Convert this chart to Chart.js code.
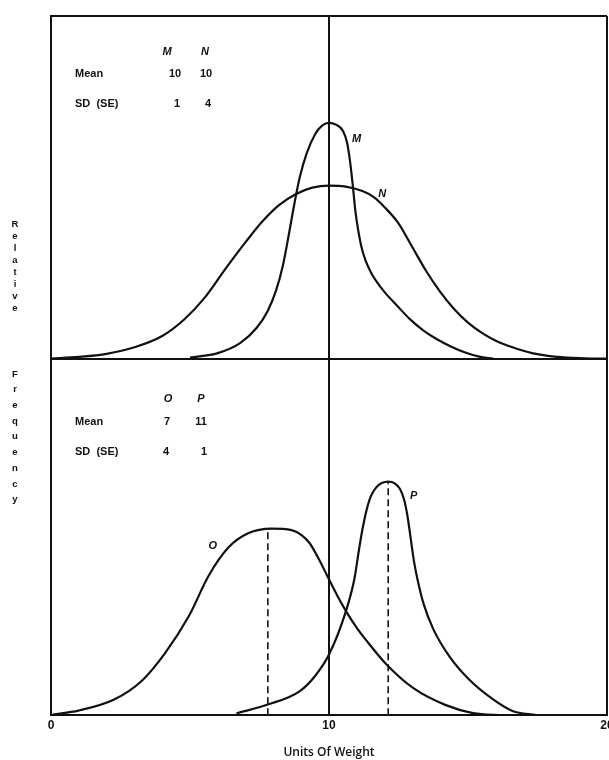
<!DOCTYPE html>
<html>
<head>
<meta charset="utf-8">
<script src="https://cdn.jsdelivr.net/npm/chart.js@4/dist/chart.umd.min.js"></script>
<style>
html,body{margin:0;padding:0;background:#fff;}
#wrap{width:609px;height:760px;position:relative;}
</style>
</head>
<body>
<div id="wrap"><canvas id="c" width="609" height="760"></canvas></div>
<script>
// ---------- data ----------
const xTicks = [0, 10, 20];
const xTitle = 'Units Of Weight';
const yTitleWords = ['Relative', 'Frequency'];

// upper panel curves (x = units of weight, y = relative frequency)
const mX = [5.0, 6.0, 6.8, 7.4, 7.8, 8.1, 8.35, 8.55, 8.75, 8.95, 9.2, 9.5, 9.75, 10.0, 10.25, 10.5, 10.65, 10.75, 10.85, 10.95, 11.05, 11.17, 11.32, 11.5, 11.7, 12.0, 12.5, 12.9, 13.4, 13.9, 14.4, 14.9, 15.4, 15.9];
const mY = [0.3, 1.6, 4.5, 9.0, 14.0, 20.0, 27.5, 36.0, 45.0, 53.0, 60.0, 65.5, 68.0, 68.8, 68.3, 66.5, 63.0, 58.0, 51.0, 43.0, 37.5, 32.5, 28.5, 25.3, 22.6, 19.4, 15.0, 11.6, 8.2, 5.6, 3.5, 1.8, 0.6, 0];
const nX = [0.0, 1.0, 2.0, 3.0, 4.0, 4.8, 5.5, 6.3, 7.0, 7.6, 8.2, 8.8, 9.4, 10.0, 10.6, 11.2, 11.6, 12.0, 12.5, 13.0, 13.5, 14.0, 14.5, 15.0, 15.5, 16.0, 16.6, 17.3, 18.2, 19.2, 20.0];
const nY = [0, 0.5, 1.4, 3.3, 6.6, 11.5, 17.5, 26.5, 34.0, 40.0, 44.8, 48.0, 49.9, 50.5, 50.2, 48.9, 47.2, 44.2, 39.5, 32.5, 25.5, 19.5, 14.5, 10.5, 7.5, 5.2, 3.3, 1.6, 0.5, 0.1, 0];

// lower panel curves
const oX = [0.07, 0.99, 2.27, 3.26, 4.11, 4.96, 5.67, 6.38, 7.09, 7.94, 8.65, 9.0, 9.3, 9.6, 9.93, 10.3, 10.61, 11.0, 11.35, 12.06, 13.05, 14.18, 15.18, 16.31];
const oY = [0.2, 1.3, 4.4, 9.6, 17.5, 27.8, 39.1, 47.0, 51.0, 52.3, 51.9, 50.6, 48.3, 44.3, 39.2, 33.5, 29.2, 24.5, 20.9, 14.3, 7.5, 2.9, 0.6, 0];
const pX = [6.67, 7.80, 8.94, 9.5, 10.0, 10.61, 10.92, 11.06, 11.2, 11.35, 11.5, 11.7, 11.9, 12.13, 12.35, 12.55, 12.7, 12.82, 12.94, 13.06, 13.2, 13.4, 13.76, 14.33, 15.04, 15.89, 16.60, 17.45];
const pY = [0.5, 3.0, 6.7, 11.0, 17.0, 29.2, 38.5, 45.5, 52.0, 57.5, 61.3, 63.9, 65.1, 65.5, 65.1, 63.5, 60.5, 56.0, 49.5, 43.0, 37.5, 31.3, 24.0, 16.5, 10.0, 4.5, 1.2, 0];

// dashed drop lines under the lower-panel peaks
const oPeakX = [7.8, 7.8];
const oPeakY = [0, 52.3];
const pPeakX = [12.13, 12.13];
const pPeakY = [0, 65.5];

// curve label anchors [text, x, y]
const labelM = ['M', 10.99, 64.1];
const labelN = ['N', 11.91, 48.2];
const labelO = ['O', 5.82, 47.5];
const labelP = ['P', 13.05, 61.6];

// stats tables
const rowNames = ['Mean', 'SD  (SE)'];
const topNames = ['M', 'N'];
const topMean = ['10', '10'];
const topSD = ['1', '4'];
const botNames = ['O', 'P'];
const botMean = ['7', '11'];
const botSD = ['4', '1'];

// ---------- chart ----------
const INK = '#111';
const pts = (xs, ys) => xs.map((v, i) => ({x: v, y: ys[i]}));

function curve(label, xs, ys, axis) {
  return {
    label, data: pts(xs, ys), yAxisID: axis,
    borderColor: INK, borderWidth: 2.2, pointRadius: 0, fill: false,
    cubicInterpolationMode: 'monotone'
  };
}
function dash(label, xs, ys, axis) {
  return {
    label, data: pts(xs, ys), yAxisID: axis,
    borderColor: INK, borderWidth: 1.6, borderDash: [7, 4], pointRadius: 0, fill: false
  };
}

const tableLayout = {
  top: {rows: [36, 58, 88], nameX: 24, cols: [[116, 154], [124, 155], [126, 157]]},
  bot: {rows: [40, 63, 93], nameX: 24, cols: [[117, 150], [116, 150], [115, 153]]}
};

function drawTable(ctx, left, top, lay, names, means, sds) {
  ctx.font = 'italic bold 11px "Liberation Sans"';
  ctx.textAlign = 'center';
  names.forEach((t, i) => ctx.fillText(t, left + lay.cols[0][i], top + lay.rows[0]));
  ctx.font = 'bold 11px "Liberation Sans"';
  ctx.textAlign = 'left';
  ctx.fillText(rowNames[0], left + lay.nameX, top + lay.rows[1]);
  ctx.fillText(rowNames[1], left + lay.nameX, top + lay.rows[2]);
  ctx.textAlign = 'center';
  means.forEach((t, i) => ctx.fillText(t, left + lay.cols[1][i], top + lay.rows[1]));
  sds.forEach((t, i) => ctx.fillText(t, left + lay.cols[2][i], top + lay.rows[2]));
}

const annot = {
  id: 'annot',
  afterDraw(chart) {
    const {ctx, chartArea, scales} = chart;
    const x = scales.x, yT = scales.yTop, yB = scales.yBot;
    ctx.save();
    ctx.fillStyle = INK;
    ctx.textBaseline = 'middle';
    drawTable(ctx, chartArea.left, yT.top, tableLayout.top, topNames, topMean, topSD);
    drawTable(ctx, chartArea.left, yB.top, tableLayout.bot, botNames, botMean, botSD);
    ctx.font = 'italic bold 11px "Liberation Sans"';
    ctx.textAlign = 'center';
    [[labelM, yT], [labelN, yT], [labelO, yB], [labelP, yB]].forEach(([l, ys]) => {
      ctx.fillText(l[0], x.getPixelForValue(l[1]), ys.getPixelForValue(l[2]));
    });
    // stacked vertical axis title
    ctx.font = 'bold 9.5px "Liberation Sans"';
    const starts = [224, 374], steps = [12.1, 15.7];
    yTitleWords.forEach((w, wi) => {
      [...w].forEach((ch, i) => ctx.fillText(ch, 15, starts[wi] + steps[wi] * i));
    });
    ctx.restore();
  }
};

const yCommon = (weight) => ({
  type: 'linear', position: 'left', stack: 'panels', stackWeight: weight,
  min: 0, max: 100,
  ticks: {display: false},
  grid: {color: INK, lineWidth: 2, drawTicks: false},
  border: {display: true, color: INK, width: 2},
  afterBuildTicks: s => { s.ticks = [{value: s.min}, {value: s.max}]; }
});

new Chart(document.getElementById('c'), {
  type: 'line',
  data: {
    datasets: [
      curve('M', mX, mY, 'yTop'),
      curve('N', nX, nY, 'yTop'),
      curve('O', oX, oY, 'yBot'),
      curve('P', pX, pY, 'yBot'),
      dash('O mean', oPeakX, oPeakY, 'yBot'),
      dash('P mean', pPeakX, pPeakY, 'yBot')
    ]
  },
  options: {
    responsive: false,
    animation: false,
    devicePixelRatio: 1,
    layout: {padding: {left: 51, right: 2, top: 16, bottom: 0}},
    plugins: {legend: {display: false}, tooltip: {enabled: false}},
    scales: {
      x: {
        type: 'linear', min: 0, max: 20,
        afterBuildTicks: s => { s.ticks = xTicks.map(v => ({value: v})); },
        afterFit: s => { s.paddingLeft = 0; s.paddingRight = 0; },
        ticks: {color: INK, font: {family: 'Liberation Sans', size: 12, weight: 'bold'}, padding: 3, maxRotation: 0},
        grid: {color: INK, lineWidth: 2, drawTicks: false},
        border: {display: true, color: INK, width: 2},
        title: {display: true, text: xTitle, color: INK,
                font: {family: 'Open Sans', size: 12, weight: '600'}, padding: {top: 10, bottom: 0}}
      },
      yBot: yCommon(358),
      yTop: yCommon(344)
    }
  },
  plugins: [annot]
});
</script>
</body>
</html>
